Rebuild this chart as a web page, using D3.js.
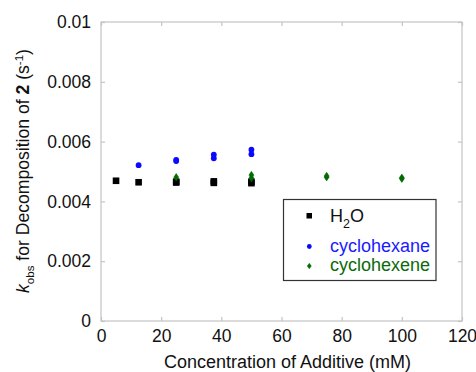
<!DOCTYPE html>
<html>
<head>
<meta charset="utf-8">
<script src="https://cdn.jsdelivr.net/npm/d3@7"></script>
<style>
  body { margin: 0; background: #fff; }
  svg { display: block; font-family: "Liberation Sans", Arial, sans-serif; }
</style>
</head>
<body>
<svg id="chart"></svg>
<script>
// data
const waterX = [5, 12.5, 25, 25, 37.5, 37.5, 50, 50];
const waterY = [0.00469, 0.00464, 0.00466, 0.00463, 0.00467, 0.00462, 0.00466, 0.00461];
const hexaneX = [12.5, 25, 25, 37.5, 37.5, 50, 50];
const hexaneY = [0.00521, 0.00535, 0.00539, 0.00544, 0.00556, 0.00558, 0.00573];
const hexeneX = [25, 50, 50, 75, 75, 100, 100];
const hexeneY = [0.00481, 0.00478, 0.00488, 0.00481, 0.00485, 0.00476, 0.00479];
const xTicks = [0, 20, 40, 60, 80, 100, 120];
const yTicks = [0, 0.002, 0.004, 0.006, 0.008, 0.01];

const width = 476, height = 372;
const margin = { top: 22, right: 14, bottom: 51, left: 101 };
const svg = d3.select("#chart").attr("width", width).attr("height", height);

const x = d3.scaleLinear().domain([0, 120]).range([margin.left, width - margin.right]);
const y = d3.scaleLinear().domain([0, 0.01]).range([height - margin.bottom, margin.top]);

const frameColor = "#c4c4c4";
const tickLen = 4;
const fmtY = d => d === 0 ? "0" : d3.format(".3~f")(d);

// frame
svg.append("rect")
  .attr("x", x(0)).attr("y", y(0.01))
  .attr("width", x(120) - x(0)).attr("height", y(0) - y(0.01))
  .attr("fill", "none").attr("stroke", frameColor).attr("stroke-width", 1.2);

// axes (inward ticks, mirrored)
const gx = svg.append("g").attr("transform", `translate(0,${y(0)})`)
  .call(d3.axisBottom(x).tickValues(xTicks).tickSizeInner(-tickLen).tickSizeOuter(0).tickPadding(10));
const gxTop = svg.append("g").attr("transform", `translate(0,${y(0.01)})`)
  .call(d3.axisTop(x).tickValues(xTicks).tickSizeInner(-tickLen).tickSizeOuter(0).tickFormat(""));
const gy = svg.append("g").attr("transform", `translate(${x(0)},0)`)
  .call(d3.axisLeft(y).tickValues(yTicks).tickSizeInner(-tickLen).tickSizeOuter(0).tickPadding(10).tickFormat(fmtY));
const gyR = svg.append("g").attr("transform", `translate(${x(120)},0)`)
  .call(d3.axisRight(y).tickValues(yTicks).tickSizeInner(-tickLen).tickSizeOuter(0).tickFormat(""));

[gx, gxTop, gy, gyR].forEach(g => {
  g.select(".domain").remove();
  g.selectAll(".tick line").attr("stroke", frameColor).attr("stroke-width", 1.2);
  g.selectAll(".tick text").attr("fill", "#111").style("font-size", "17.5px").style("font-family", "Liberation Sans, Arial, sans-serif");
});
gx.selectAll(".tick text").attr("dy", "0.71em").attr("y", 9);
gy.selectAll(".tick text").attr("x", -10);

// axis titles
svg.append("text")
  .attr("x", (x(0) + x(120)) / 2 + 6).attr("y", 368)
  .attr("text-anchor", "middle").attr("fill", "#111").style("font-size", "18px")
  .text("Concentration of Additive (mM)");

const yt = svg.append("text")
  .attr("transform", `translate(29,171) rotate(-90)`)
  .attr("text-anchor", "middle").attr("fill", "#111").style("font-size", "17.6px");
yt.append("tspan").style("font-style", "italic").text("k");
yt.append("tspan").attr("dy", 5).style("font-size", "11.5px").text("obs");
yt.append("tspan").attr("dy", -5).text(" for Decomposition of ");
yt.append("tspan").style("font-weight", "bold").text("2");
yt.append("tspan").text(" (s");
yt.append("tspan").attr("dy", -6).style("font-size", "11.5px").text("-1");
yt.append("tspan").attr("dy", 6).text(")");

// series
const plot = svg.append("g");
const water = d3.zip(waterX, waterY);
const hexane = d3.zip(hexaneX, hexaneY);
const hexene = d3.zip(hexeneX, hexeneY);

plot.selectAll(".water").data(water).enter().append("rect")
  .attr("x", d => x(d[0]) - 3.3).attr("y", d => y(d[1]) - 3.3)
  .attr("width", 6.6).attr("height", 6.6).attr("fill", "#000");

plot.selectAll(".hexane").data(hexane).enter().append("circle")
  .attr("cx", d => x(d[0])).attr("cy", d => y(d[1])).attr("r", 2.9).attr("fill", "#0a0aff");

const diamond = (cx, cy, w, h) => `M${cx},${cy - h / 2}L${cx + w / 2},${cy}L${cx},${cy + h / 2}L${cx - w / 2},${cy}Z`;
plot.selectAll(".hexene").data(hexene).enter().append("path")
  .attr("d", d => diamond(x(d[0]), y(d[1]), 5, 7.5))
  .attr("fill", "#006b00").attr("stroke", "#006b00").attr("stroke-width", 0.5).attr("stroke-linejoin", "round");

// legend
const lg = svg.append("g");
lg.append("rect").attr("x", 283.5).attr("y", 199.5).attr("width", 152.5).attr("height", 81)
  .attr("fill", "#fff").attr("stroke", "#333").attr("stroke-width", 1.2);
lg.append("rect").attr("x", 306.5).attr("y", 213).attr("width", 5.5).attr("height", 5.5).attr("fill", "#000");
lg.append("circle").attr("cx", 309.3).attr("cy", 246.5).attr("r", 2.4).attr("fill", "#0a0aff");
lg.append("path").attr("d", diamond(309.3, 266, 4, 5.5)).attr("fill", "#006b00").attr("stroke", "#006b00").attr("stroke-width", 0.5);

const h2o = lg.append("text").attr("x", 330).attr("y", 221.5).attr("fill", "#111").style("font-size", "18px");
h2o.append("tspan").text("H");
h2o.append("tspan").attr("dy", 6).style("font-size", "12.5px").text("2");
h2o.append("tspan").attr("dy", -6).text("O");
lg.append("text").attr("x", 330).attr("y", 251.5).attr("fill", "#1a1aff").style("font-size", "18px").text("cyclohexane");
lg.append("text").attr("x", 330).attr("y", 271).attr("fill", "#0a6a0a").style("font-size", "18px").text("cyclohexene");
</script>
</body>
</html>
